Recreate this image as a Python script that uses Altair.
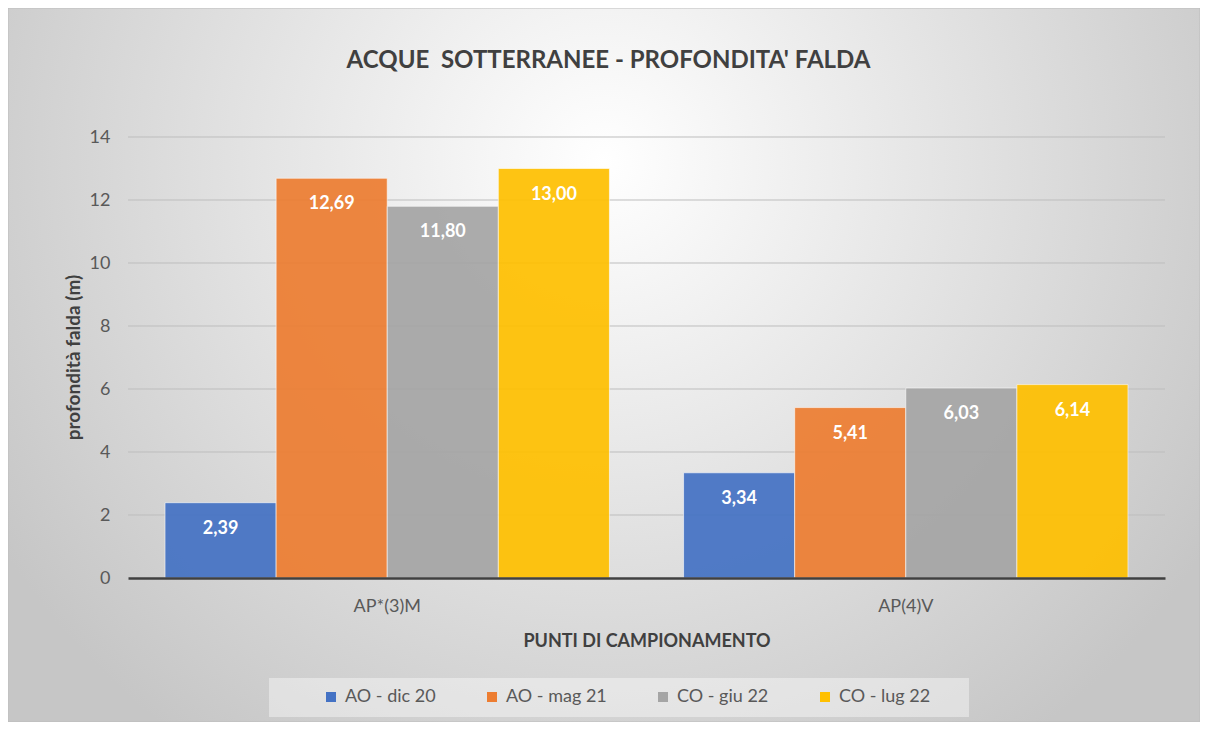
import altair as alt
import pandas as pd

punti = ["AP*(3)M", "AP(4)V"]
serie = ["AO - dic 20", "AO - mag 21", "CO - giu 22", "CO - lug 22"]
colori = ["#4472C4", "#ED7D31", "#A5A5A5", "#FFC000"]
valori_ap3m = [2.39, 12.69, 11.80, 13.00]
valori_ap4v = [3.34, 5.41, 6.03, 6.14]
tick_y = [0, 2, 4, 6, 8, 10, 12, 14]

rows = []
for p, vals in zip(punti, [valori_ap3m, valori_ap4v]):
    for s, v in zip(serie, vals):
        rows.append({"punto": p, "serie": s, "valore": v,
                     "etichetta": f"{v:.2f}".replace(".", ",")})
df = pd.DataFrame(rows)
df_grid = pd.DataFrame({"t": tick_y[1:]})
one = pd.DataFrame({"k": [0]})

FONT = "Lato"
W, H = 1037, 441

bg = alt.Chart(one).mark_rect(
    clip=False,
    fill=alt.Gradient(
        gradient="radial",
        stops=[alt.GradientStop(color="#ffffff", offset=0),
               alt.GradientStop(color="#c6c6c6", offset=1)],
        x1=0.5, y1=0.33, r1=0, x2=0.5, y2=0.33, r2=0.6),
    stroke="#bdbdbd", strokeWidth=1,
).encode(x=alt.value(-120), x2=alt.value(1072), y=alt.value(-129), y2=alt.value(585))

legbox = alt.Chart(one).mark_rect(clip=False, fill="#ffffff", fillOpacity=0.4).encode(
    x=alt.value(141), x2=alt.value(841), y=alt.value(541), y2=alt.value(580))

grid = alt.Chart(df_grid).mark_rule(color="#bdbdbd", strokeWidth=1).encode(
    y=alt.Y("t:Q", scale=alt.Scale(domain=[0, 14], nice=False)))

x_enc = alt.X("punto:N", sort=punti,
              scale=alt.Scale(paddingInner=0.143, paddingOuter=0.0714),
              axis=alt.Axis(title="PUNTI DI CAMPIONAMENTO", labelAngle=0,
                            labelFontSize=18, labelColor="#595959", labelPadding=19,
                            domainColor="#404040", domainWidth=2.5, ticks=False, grid=False,
                            titleFontSize=18, titleFontWeight="bold", titleColor="#404040",
                            titleY=63, titleBaseline="middle", zindex=1))
xo_enc = alt.XOffset("serie:N", sort=serie, scale=alt.Scale(paddingInner=0, paddingOuter=0))
y_enc = alt.Y("valore:Q", scale=alt.Scale(domain=[0, 14], nice=False),
              axis=alt.Axis(values=tick_y, title="profondità falda (m)", domain=False, ticks=False,
                            grid=False,
                            labelFontSize=18, labelColor="#595959", labelPadding=18,
                            titleFontSize=19, titleFontWeight="bold", titleColor="#404040",
                            titleX=-55, titleY=220, titleAngle=-90,
                            titleAlign="center", titleBaseline="middle", zindex=1))

bars = alt.Chart(df).mark_bar(opacity=0.92, stroke="#ffffff", strokeWidth=1, strokeOpacity=0.6).encode(
    x=x_enc, xOffset=xo_enc, y=y_enc,
    color=alt.Color("serie:N", sort=serie, scale=alt.Scale(domain=serie, range=colori),
                    legend=alt.Legend(title=None, orient="none", legendX=194, legendY=551,
                                      direction="horizontal", columns=4, columnPadding=47,
                                      symbolType="square", symbolSize=100, symbolStrokeWidth=0,
                                      symbolOpacity=1, labelFontSize=18, labelColor="#595959",
                                      labelOffset=5, padding=0, zindex=1)),
)

labels = alt.Chart(df).mark_text(dy=26, baseline="middle", color="#ffffff",
                                 fontWeight="bold", fontSize=18).encode(
    x=alt.X("punto:N", sort=punti), xOffset=alt.XOffset("serie:N", sort=serie),
    y="valore:Q", text="etichetta:N")

chart = alt.layer(bg, legbox, grid, bars, labels).properties(
    width=W, height=H,
    autosize=alt.AutoSizeParams(type="none"),
    padding={"left": 120, "top": 129, "right": 35, "bottom": 144},
    title=alt.TitleParams("ACQUE\u00a0 SOTTERRANEE - PROFONDITA' FALDA", fontSize=24,
                          fontWeight="bold", color="#404040", anchor="middle", dx=-38,
                          baseline="alphabetic", offset=-84, font=FONT, zindex=1),
).configure(font=FONT, background="#ffffff").configure_view(stroke=None)

chart.save("out.html", embed_options={"renderer": "svg", "actions": False})
